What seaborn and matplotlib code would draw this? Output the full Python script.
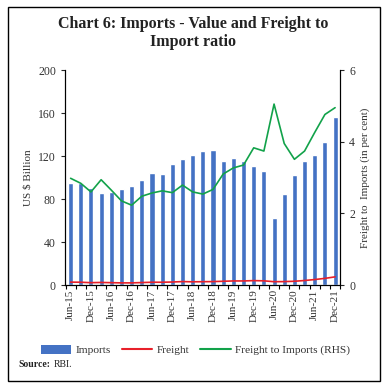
import numpy as np
import pandas as pd
import seaborn as sns
import matplotlib.pyplot as plt
from matplotlib.patches import Patch, Rectangle
from matplotlib.lines import Line2D

# quarterly data, Jun-15 .. Dec-21
quarters = ['Jun-15', 'Sep-15', 'Dec-15', 'Mar-16', 'Jun-16', 'Sep-16', 'Dec-16',
            'Mar-17', 'Jun-17', 'Sep-17', 'Dec-17', 'Mar-18', 'Jun-18', 'Sep-18',
            'Dec-18', 'Mar-19', 'Jun-19', 'Sep-19', 'Dec-19', 'Mar-20', 'Jun-20',
            'Sep-20', 'Dec-20', 'Mar-21', 'Jun-21', 'Sep-21', 'Dec-21']
imports = [95, 95, 90, 86, 87, 89.5, 92.5, 98, 104, 103, 112.5, 117, 121, 124.5,
           125.5, 115, 118.5, 115.5, 110.5, 106.5, 62.5, 84.5, 102, 115.5, 121,
           133, 156]
freight = [2.8, 2.7, 2.3, 2.5, 2.3, 2.1, 2.1, 2.4, 2.7, 2.7, 2.9, 3.3, 3.1, 3.2,
           3.3, 3.6, 3.9, 3.9, 4.2, 4.0, 3.2, 3.3, 3.6, 4.3, 5.2, 6.3, 7.7]
ratio = [2.98, 2.84, 2.60, 2.94, 2.65, 2.35, 2.23, 2.48, 2.57, 2.63, 2.58, 2.79,
         2.60, 2.54, 2.67, 3.10, 3.27, 3.35, 3.83, 3.74, 5.05, 3.95, 3.51, 3.74,
         4.26, 4.76, 4.95]

df = pd.DataFrame({'quarter': quarters, 'imports': imports,
                   'freight': freight, 'ratio': ratio})
df['pos'] = np.arange(len(df))

BLUE = '#4472C4'
RED = '#E8202A'
GREEN = '#12A24A'
TXT = '#333333'

sns.set_theme(style='ticks')
plt.rcParams['font.family'] = ['Liberation Serif', 'DejaVu Serif']

fig = plt.figure(figsize=(3.87, 3.89), dpi=100)
ax = fig.add_axes([0.168, 0.267, 0.711, 0.553])

sns.barplot(data=df, x='pos', y='imports', ax=ax, color=BLUE, width=0.5,
            native_scale=True, saturation=1, zorder=2)
sns.lineplot(data=df, x='pos', y='freight', ax=ax, color=RED, lw=1.2, zorder=3)

ax2 = ax.twinx()
sns.lineplot(data=df, x='pos', y='ratio', ax=ax2, color=GREEN, lw=1.2)

ax.set_xlim(-0.55, len(df) - 0.5)
ax.set_ylim(0, 200)
ax.set_yticks(range(0, 201, 40))
ax2.set_ylim(0, 6)
ax2.set_yticks([0, 2, 4, 6])

ax.set_xticks(df['pos'][::2])
ax.set_xticklabels(df['quarter'][::2], rotation=90, fontsize=8, color=TXT)
ax.set_xticks(np.arange(-0.5, len(df), 1), minor=True)
ax.tick_params(axis='x', which='major', length=0, pad=3)
ax.tick_params(axis='x', which='minor', length=3, width=0.8, color='black')
ax.tick_params(axis='y', labelsize=8.5, labelcolor=TXT, length=3, width=0.8)
ax2.tick_params(axis='y', labelsize=8.5, labelcolor=TXT, length=3, width=0.8)

ax.set_xlabel('')
ax.set_ylabel('US $ Billion', fontsize=8, color=TXT, labelpad=4)
ax2.set_ylabel('Freight to  Imports (in per cent)', fontsize=8, color=TXT, labelpad=4)

for a in (ax, ax2):
    a.spines['top'].set_visible(False)
    for s in ('left', 'right', 'bottom'):
        a.spines[s].set_color('black')
        a.spines[s].set_linewidth(0.8)

fig.text(0.5, 0.916, 'Chart 6: Imports - Value and Freight to\nImport ratio',
         ha='center', va='center', fontsize=11.5, fontweight='bold',
         color='#222222', linespacing=1.15)

handles = [Patch(facecolor=BLUE, edgecolor='none'),
           Line2D([], [], color=RED, lw=1.5),
           Line2D([], [], color=GREEN, lw=1.5)]
fig.legend(handles, ['Imports', 'Freight', 'Freight to Imports (RHS)'],
           loc='center', bbox_to_anchor=(0.505, 0.1), ncol=3, frameon=False,
           fontsize=8.2, handlelength=2.7, handleheight=0.8, columnspacing=0.9,
           handletextpad=0.4, labelcolor=TXT)

fig.text(0.047, 0.064, 'Source:', fontsize=7, fontweight='bold', color='#222222',
         va='center')
fig.text(0.14, 0.064, 'RBI.', fontsize=7, color='#222222', va='center')

fig.patches.append(Rectangle((0.0207, 0.0206), 0.961, 0.961, transform=fig.transFigure,
                             fill=False, edgecolor='black', lw=1.0))

fig.savefig('out.png', dpi=100)
